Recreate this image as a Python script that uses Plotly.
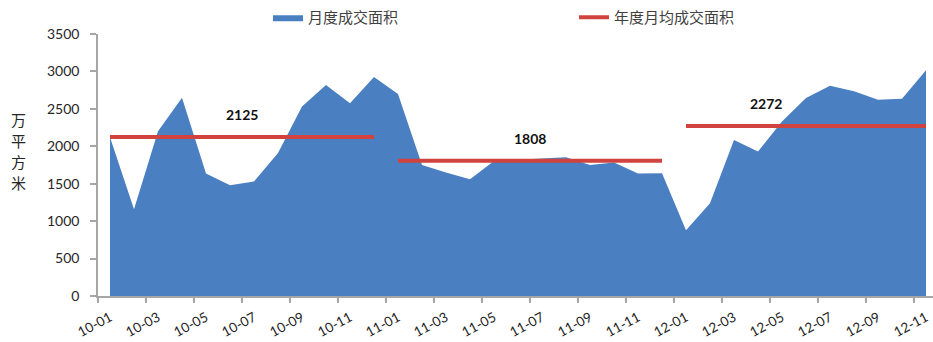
import plotly.graph_objects as go

# Monthly transaction area (10k m²), Jan 2010 – Nov 2012
months = [
    "10-01", "10-02", "10-03", "10-04", "10-05", "10-06", "10-07", "10-08", "10-09", "10-10", "10-11", "10-12",
    "11-01", "11-02", "11-03", "11-04", "11-05", "11-06", "11-07", "11-08", "11-09", "11-10", "11-11", "11-12",
    "12-01", "12-02", "12-03", "12-04", "12-05", "12-06", "12-07", "12-08", "12-09", "12-10", "12-11",
]
monthly_area = [
    2120, 1160, 2200, 2650, 1635, 1480, 1530, 1910, 2530, 2820, 2575, 2925,
    2700, 1750, 1650, 1560, 1805, 1820, 1830, 1855, 1750, 1785, 1635, 1640,
    880, 1240, 2085, 1930, 2330, 2645, 2810, 2735, 2620, 2635, 3015,
]

# Yearly average of monthly transaction area
year_prefix = ["10", "11", "12"]
year_avg = [2125, 1808, 2272]
# x position of each average's value label (category index)
avg_label_x = [5.5, 17.5, 27.35]

unit_chars = ["万", "平", "方", "米"]

BLUE = "#4A7FC1"
RED = "#D0433E"
AXIS = "#A6A6A6"
TXT = "#262626"
CJK = "Noto Sans CJK SC"
LATIN = "Lato"

idx = list(range(len(months)))

# Build the average segments (one per year, separated by gaps)
avg_x, avg_y = [], []
for p, v in zip(year_prefix, year_avg):
    members = [i for i, m in enumerate(months) if m.startswith(p + "-")]
    avg_x += [members[0], members[-1], None]
    avg_y += [v, v, None]

fig = go.Figure()
fig.add_trace(go.Scatter(
    x=idx, y=monthly_area, name="月度成交面积",
    mode="lines", fill="tozeroy", fillcolor=BLUE,
    line=dict(width=0, color=BLUE), legend="legend",
))
fig.add_trace(go.Scatter(
    x=avg_x, y=avg_y, name="年度月均成交面积",
    mode="lines", line=dict(width=4, color=RED), legend="legend2",
))

for lx, v in zip(avg_label_x, year_avg):
    fig.add_annotation(
        x=lx, y=v, text=f"<b>{v}</b>", showarrow=False, yshift=22,
        font=dict(family=LATIN, size=14, color="#111"),
    )

# Vertical unit label, one character per row
n = len(unit_chars)
for k, ch in enumerate(unit_chars):
    fig.add_annotation(
        xref="paper", yref="paper", x=-80 / 835, y=0.555,
        xanchor="center", yanchor="middle",
        yshift=(n - 1) / 2 * 21 - k * 21,
        text=ch, showarrow=False,
        font=dict(family=CJK, size=15, color=TXT),
    )

tick_idx = idx[::2]
fig.update_layout(
    width=933, height=342,
    margin=dict(l=98, r=0, t=34, b=46, autoexpand=False),
    paper_bgcolor="white", plot_bgcolor="white",
    showlegend=True,
    legend=dict(
        orientation="h", xref="container", yref="container",
        x=268 / 933, y=1 - 1 / 342, xanchor="left", yanchor="top",
        font=dict(family=CJK, size=15, color="#404040"),
        bgcolor="rgba(0,0,0,0)", borderwidth=0,
    ),
    legend2=dict(
        orientation="h", xref="container", yref="container",
        x=574 / 933, y=1 - 1 / 342, xanchor="left", yanchor="top",
        font=dict(family=CJK, size=15, color="#404040"),
        bgcolor="rgba(0,0,0,0)", borderwidth=0,
    ),
    xaxis=dict(
        range=[-0.5, -0.5 + 835 / 24],
        tickmode="array", tickvals=tick_idx,
        ticktext=[months[i] for i in tick_idx],
        tickangle=-28, ticks="", ticklabelstandoff=7,
        tickfont=dict(family=LATIN, size=13.5, color=TXT),
        showline=True, linecolor=AXIS, linewidth=1.5,
        showgrid=False, zeroline=False,
        minor=dict(ticks="outside", tick0=-0.5, dtick=2, ticklen=5,
                   tickcolor=AXIS, tickwidth=1.5, showgrid=False),
    ),
    yaxis=dict(
        range=[0, 3500], tickmode="linear", tick0=0, dtick=500,
        ticks="outside", ticklen=6, tickcolor=AXIS, tickwidth=1.5,
        ticklabelstandoff=8,
        tickfont=dict(family=LATIN, size=14, color=TXT),
        showline=True, linecolor=AXIS, linewidth=1.5,
        showgrid=False, zeroline=False,
    ),
)

fig.write_html("out.html")
